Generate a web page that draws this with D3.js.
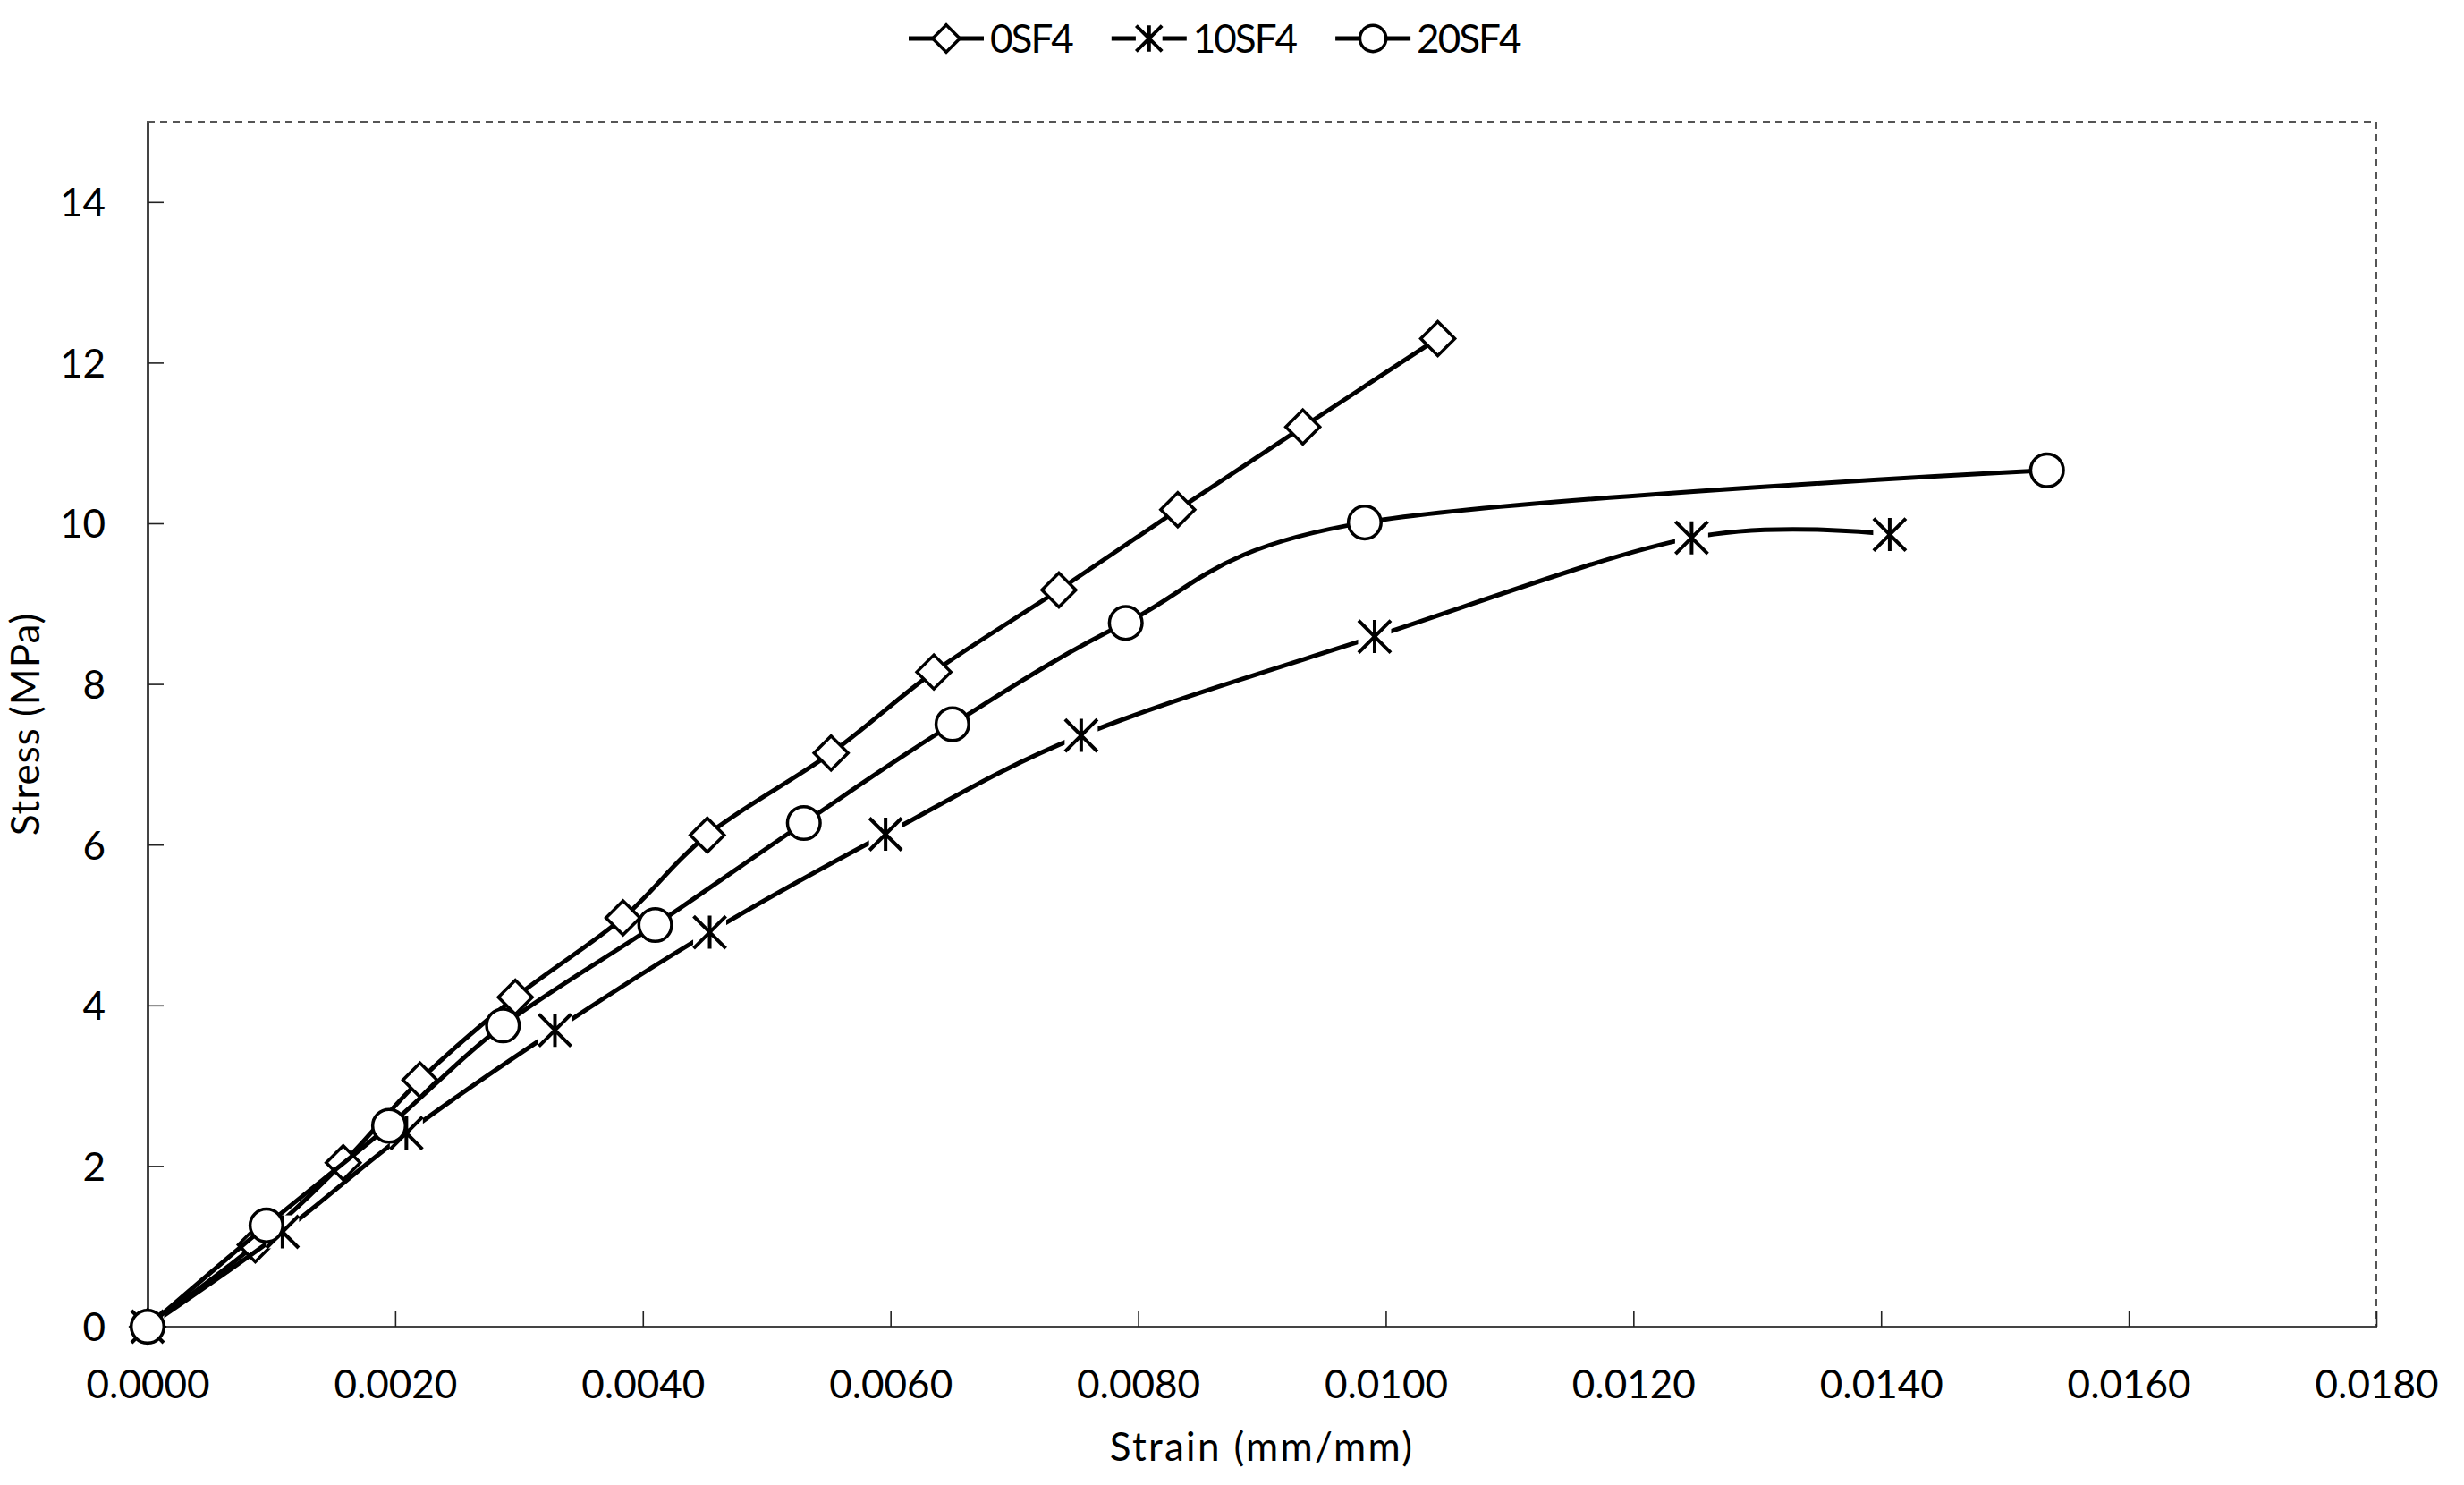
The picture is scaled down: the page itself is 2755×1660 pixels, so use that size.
<!DOCTYPE html>
<html>
<head>
<meta charset="utf-8">
<script src="https://cdn.jsdelivr.net/npm/d3@7"></script>
<style>
  html, body { margin: 0; padding: 0; background: #fff; }
  svg { display: block; }
  text { font-family: Lato, "Open Sans", sans-serif; fill: #000; }
</style>
</head>
<body>
<svg id="chart" width="2755" height="1660"></svg>
<script>
// ---- data ----
const seriesNames = ["0SF4", "10SF4", "20SF4"];
const markerTypes = ["diamond", "star", "circle"];

const strain0SF4 = [0, 0.00087, 0.00158, 0.00220, 0.00297, 0.00384, 0.00452, 0.00552, 0.00635, 0.00736, 0.00832, 0.00933, 0.01042];
const stress0SF4 = [0, 1.02, 2.04, 3.07, 4.10, 5.09, 6.12, 7.14, 8.15, 9.17, 10.17, 11.20, 12.30];

const strain10SF4 = [0, 0.00109, 0.00209, 0.00329, 0.00454, 0.00596, 0.00754, 0.00991, 0.01247, 0.01407];
const stress10SF4 = [0, 1.18, 2.41, 3.69, 4.91, 6.13, 7.36, 8.59, 9.82, 9.86];

const strain20SF4 = [0, 0.00096, 0.00195, 0.00287, 0.00410, 0.00530, 0.00650, 0.00790, 0.00983, 0.01534];
const stress20SF4 = [0, 1.26, 2.50, 3.75, 5.00, 6.27, 7.50, 8.76, 10.01, 10.66];

const xTicks = [0, 0.002, 0.004, 0.006, 0.008, 0.010, 0.012, 0.014, 0.016, 0.018];
const yTicks = [0, 2, 4, 6, 8, 10, 12, 14];
const xTitle = "Strain (mm/mm)";
const yTitle = "Stress (MPa)";

// ---- layout ----
const svg = d3.select("#chart");
const pL = 165, pR = 2657, pT = 136, pB = 1483;
const x = d3.scaleLinear().domain([0, 0.018]).range([pL, pR]);
const y = d3.scaleLinear().domain([0, 15]).range([pB, pT]);

const series = [
  {name: seriesNames[0], marker: markerTypes[0], pts: strain0SF4.map((s, i) => [s, stress0SF4[i]])},
  {name: seriesNames[1], marker: markerTypes[1], pts: strain10SF4.map((s, i) => [s, stress10SF4[i]])},
  {name: seriesNames[2], marker: markerTypes[2], pts: strain20SF4.map((s, i) => [s, stress20SF4[i]])}
];

// plot-area border (dashed)
svg.append("rect")
  .attr("x", pL).attr("y", pT)
  .attr("width", pR - pL).attr("height", pB - pT)
  .attr("fill", "none").attr("stroke", "#555").attr("stroke-width", 2)
  .attr("stroke-dasharray", "8,6");

// axes
const fontSize = 44;
const xAxis = d3.axisBottom(x).tickValues(xTicks).tickSize(-17).tickPadding(0).tickSizeOuter(0)
  .tickFormat(d => d3.format(".4f")(d));
const gx = svg.append("g").attr("transform", `translate(0,${pB})`).call(xAxis);
gx.select(".domain").attr("stroke", "#444").attr("stroke-width", 3);
gx.selectAll(".tick line").attr("stroke", "#222").attr("stroke-width", 1.6);
gx.selectAll(".tick text").attr("font-size", fontSize).attr("font-family", "Lato")
  .attr("y", 80).attr("dy", 0).attr("fill", "#000");

const yAxis = d3.axisLeft(y).tickValues(yTicks).tickSize(-18).tickPadding(0).tickSizeOuter(0)
  .tickFormat(d3.format("d"));
const gy = svg.append("g").attr("transform", `translate(${pL},0)`).call(yAxis);
gy.select(".domain").attr("stroke", "#444").attr("stroke-width", 3);
gy.selectAll(".tick line").attr("stroke", "#222").attr("stroke-width", 1.6);
gy.selectAll(".tick text").attr("font-size", fontSize).attr("font-family", "Lato")
  .attr("x", -47).attr("dy", "0.36em").attr("fill", "#000");

// axis titles
svg.append("text").attr("x", (pL + pR) / 2).attr("y", 1633)
  .attr("text-anchor", "middle").attr("font-size", fontSize)
  .attr("letter-spacing", 2.3).text(xTitle);
svg.append("text")
  .attr("transform", `translate(44,${(pT + pB) / 2}) rotate(-90)`)
  .attr("text-anchor", "middle").attr("font-size", fontSize)
  .attr("letter-spacing", 1).text(yTitle);

// markers
function drawMarker(g, type, cx, cy, s) {
  if (type === "circle") {
    g.append("circle").attr("cx", cx).attr("cy", cy).attr("r", 18.3 * s)
      .attr("fill", "#fff").attr("stroke", "#000").attr("stroke-width", 3.5);
  } else if (type === "diamond") {
    const r = 19 * s;
    g.append("path")
      .attr("d", `M${cx},${cy - r}L${cx + r},${cy}L${cx},${cy + r}L${cx - r},${cy}Z`)
      .attr("fill", "#fff").attr("stroke", "#000").attr("stroke-width", 3.5);
  } else {
    const r = 18 * s, rv = 18.5 * s;
    g.append("rect").attr("x", cx - r - 0.5).attr("y", cy - rv)
      .attr("width", 2 * r + 1).attr("height", 2 * rv).attr("fill", "#fff");
    g.append("path")
      .attr("d", `M${cx},${cy - rv}L${cx},${cy + rv}M${cx - r},${cy - r}L${cx + r},${cy + r}M${cx - r},${cy + r}L${cx + r},${cy - r}`)
      .attr("fill", "none").attr("stroke", "#000").attr("stroke-width", 4);
  }
}

const line = d3.line().x(d => x(d[0])).y(d => y(d[1])).curve(d3.curveCatmullRom.alpha(0));
series.forEach(sr => {
  const g = svg.append("g");
  g.append("path").datum(sr.pts).attr("d", line)
    .attr("fill", "none").attr("stroke", "#000").attr("stroke-width", 5)
    .attr("stroke-linejoin", "round");
  sr.pts.forEach(p => drawMarker(g, sr.marker, x(p[0]), y(p[1]), 1));
});

// legend
let lx = 1016;
const ly = 43;
series.forEach(sr => {
  const g = svg.append("g");
  g.append("line").attr("x1", lx).attr("x2", lx + 84).attr("y1", ly).attr("y2", ly)
    .attr("stroke", "#000").attr("stroke-width", 5);
  drawMarker(g, sr.marker, lx + 42, ly, 0.8);
  const t = g.append("text").attr("x", lx + 91).attr("y", ly + 16)
    .attr("font-size", fontSize).attr("letter-spacing", -2).text(sr.name);
  lx += 91 + t.node().getComputedTextLength() + 44;
});
</script>
</body>
</html>
